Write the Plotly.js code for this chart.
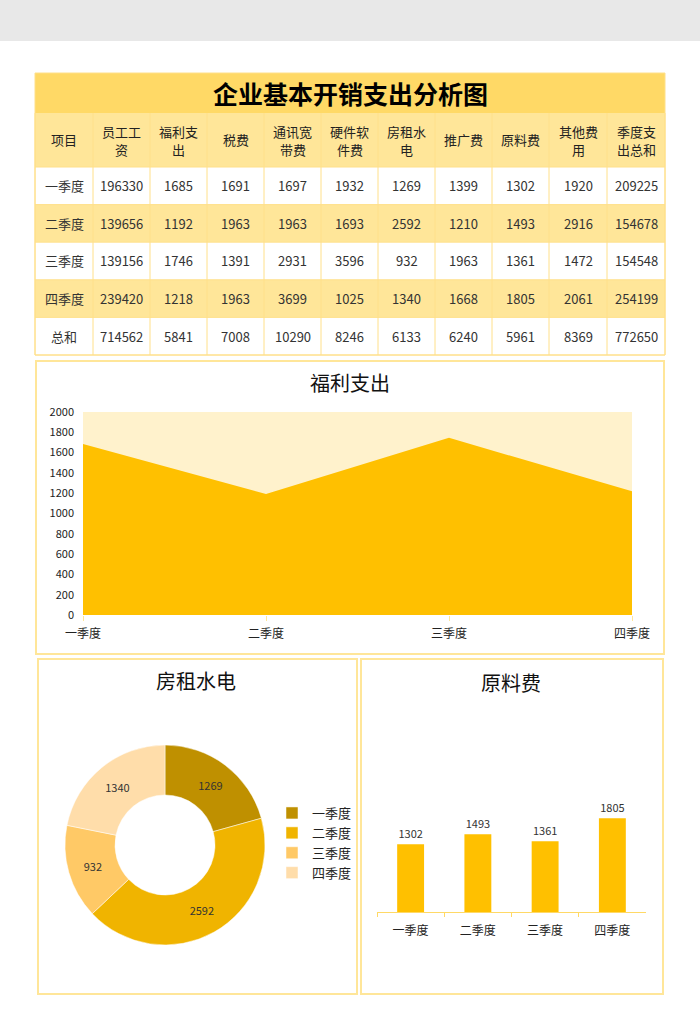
<!DOCTYPE html>
<html>
<head>
<meta charset="utf-8">
<script src="https://cdn.plot.ly/plotly-3.0.1.min.js"></script>
<style>html,body{margin:0;padding:0;background:#fff;}#chart{width:700px;height:1030px;}</style>
</head>
<body>
<div id="chart"></div>
<script>
// ---------- data ----------
const quarters = ['一季度','二季度','三季度','四季度'];
const rowLabels = ['一季度','二季度','三季度','四季度','总和'];
const headerLabels = ['项目','员工工<br>资','福利支<br>出','税费','通讯宽<br>带费','硬件软<br>件费','房租水<br>电','推广费','原料费','其他费<br>用','季度支<br>出总和'];
const staffWage = [196330,139656,139156,239420,714562];
const welfare   = [1685,1192,1746,1218,5841];
const tax       = [1691,1963,1391,1963,7008];
const telecom   = [1697,1963,2931,3699,10290];
const hardware  = [1932,1693,3596,1025,8246];
const rent      = [1269,2592,932,1340,6133];
const promotion = [1399,1210,1963,1668,6240];
const material  = [1302,1493,1361,1805,5961];
const other     = [1920,2916,1472,2061,8369];
const quarterTotal = [209225,154678,154548,254199,772650];
const welfareCap = [2000,2000,2000,2000];

const mainTitle = '企业基本开销支出分析图';
const areaTitle = '福利支出';
const pieTitle = '房租水电';
const barTitle = '原料费';

// ---------- helpers ----------
const W = 700, H = 1030;
const px = x => x / W;
const py = y => 1 - y / H;
const FONT = '"Noto Sans CJK SC", "Noto Sans", sans-serif';

// ---------- table (grid drawn with shapes, text with annotations) ----------
const tableColumns = [rowLabels, staffWage, welfare, tax, telecom, hardware, rent, promotion, material, other, quarterTotal];
const colWidths = [58,57,57,57,57,57,57,57,57,58,58];
const tableLeft = 35, titleTop = 73, headerTop = 113, headerH = 54, rowH = 37.6, headerLineGap = 18;
const rowFill = ['#FFFFFF','#FFE699','#FFFFFF','#FFE699','#FFFFFF'];
const gridColor = '#FFE08A';

const colEdges = [tableLeft];
colWidths.forEach(w => colEdges.push(colEdges[colEdges.length - 1] + w));
const tableRight = colEdges[colEdges.length - 1];
const dataTop = headerTop + headerH;
const tableBottom = dataTop + rowH * rowLabels.length;

const shapes = [];
const annotations = [];

// gray top band
shapes.push({type: 'rect', xref: 'paper', yref: 'paper', x0: 0, x1: 1, y0: py(41), y1: 1,
  fillcolor: '#E8E8E8', line: {width: 0}, layer: 'below'});
// title row
shapes.push({type: 'rect', xref: 'paper', yref: 'paper', x0: px(tableLeft), x1: px(tableRight),
  y0: py(headerTop), y1: py(titleTop), fillcolor: '#FFD966', line: {width: 0}, layer: 'below'});
// header row
shapes.push({type: 'rect', xref: 'paper', yref: 'paper', x0: px(tableLeft), x1: px(tableRight),
  y0: py(dataTop), y1: py(headerTop), fillcolor: '#FFE699', line: {width: 0}, layer: 'below'});
// data rows
rowLabels.forEach((_, r) => {
  shapes.push({type: 'rect', xref: 'paper', yref: 'paper', x0: px(tableLeft), x1: px(tableRight),
    y0: py(dataTop + rowH * (r + 1)), y1: py(dataTop + rowH * r),
    fillcolor: rowFill[r], line: {width: 0}, layer: 'below'});
});
// vertical grid lines
colEdges.forEach(x => {
  shapes.push({type: 'line', xref: 'paper', yref: 'paper', x0: px(x), x1: px(x),
    y0: py(tableBottom), y1: py(headerTop), line: {color: gridColor, width: 1}, layer: 'below'});
});
// horizontal grid lines
for (let r = 0; r <= rowLabels.length; r++) {
  const y = dataTop + rowH * r;
  shapes.push({type: 'line', xref: 'paper', yref: 'paper', x0: px(tableLeft), x1: px(tableRight),
    y0: py(y), y1: py(y), line: {color: gridColor, width: 1}, layer: 'below'});
}
// outer border
shapes.push({type: 'rect', xref: 'paper', yref: 'paper', x0: px(tableLeft), x1: px(tableRight),
  y0: py(tableBottom), y1: py(titleTop), line: {color: gridColor, width: 1}, layer: 'below'});

// table title
annotations.push({text: '<b>' + mainTitle + '</b>', xref: 'paper', yref: 'paper',
  x: px((tableLeft + tableRight) / 2), y: py((titleTop + headerTop) / 2),
  xanchor: 'center', yanchor: 'middle', showarrow: false,
  font: {family: FONT, size: 25, color: '#000'}});
// header + cells
headerLabels.forEach((h, c) => {
  const cx = (colEdges[c] + colEdges[c + 1]) / 2;
  const lines = h.split('<br>');
  const midY = headerTop + headerH / 2;
  lines.forEach((ln, i) => {
    const ly = midY + (i - (lines.length - 1) / 2) * headerLineGap;
    annotations.push({text: ln, xref: 'paper', yref: 'paper', x: px(cx), y: py(ly),
      xanchor: 'center', yanchor: 'middle', showarrow: false,
      font: {family: FONT, size: 13, color: '#222'}});
  });
  tableColumns[c].forEach((v, r) => {
    annotations.push({text: String(v), xref: 'paper', yref: 'paper', x: px(cx),
      y: py(dataTop + rowH * (r + 0.5)), xanchor: 'center', yanchor: 'middle', showarrow: false,
      font: {family: FONT, size: 13, color: '#333'}});
  });
});

// ---------- chart panels ----------
const panelLine = {color: '#FFE699', width: 2};
[[36, 361, 664, 654], [38, 659, 357, 994], [361, 659, 663, 994]].forEach(([x0, y0, x1, y1]) => {
  shapes.push({type: 'rect', xref: 'paper', yref: 'paper', x0: px(x0), x1: px(x1), y0: py(y1), y1: py(y0),
    line: panelLine, layer: 'below'});
});
[[areaTitle, 350, 383], [pieTitle, 196, 680], [barTitle, 511, 682]].forEach(([t, x, y]) => {
  annotations.push({text: t, xref: 'paper', yref: 'paper', x: px(x), y: py(y),
    xanchor: 'center', yanchor: 'middle', showarrow: false,
    font: {family: FONT, size: 20, color: '#111'}});
});

const capTrace = {
  type: 'scatter', mode: 'lines', x: quarters, y: welfareCap,
  fill: 'tozeroy', fillcolor: '#FFF2CC', line: {width: 0, color: '#FFF2CC'},
  xaxis: 'x', yaxis: 'y', showlegend: false, hoverinfo: 'skip'
};
const areaTrace = {
  type: 'scatter', mode: 'lines', x: quarters, y: welfare.slice(0, 4),
  fill: 'tozeroy', fillcolor: '#FFC000', line: {width: 0, color: '#FFC000'},
  xaxis: 'x', yaxis: 'y', showlegend: false, name: areaTitle
};

const pieTrace = {
  type: 'pie', labels: quarters, values: rent.slice(0, 4),
  hole: 0.5, sort: false, direction: 'clockwise', rotation: 0,
  domain: {x: [px(65), px(265)], y: [py(945), py(745)]},
  marker: {colors: ['#BF9000','#F0B400','#FFC966','#FFDDAA'], line: {color: '#FFFFFF', width: 0.5}},
  textinfo: 'value', textposition: 'inside', insidetextorientation: 'horizontal',
  textfont: {family: FONT, size: 11, color: '#333'},
  showlegend: true, name: pieTitle
};

const barTrace = {
  type: 'bar', x: quarters, y: material.slice(0, 4),
  marker: {color: '#FFC000'},
  text: material.slice(0, 4).map(String), textposition: 'outside', cliponaxis: false,
  textfont: {family: FONT, size: 11, color: '#333'},
  xaxis: 'x2', yaxis: 'y2', showlegend: false, name: barTitle
};

const layout = {
  width: W, height: H,
  margin: {l: 0, r: 0, t: 0, b: 0},
  paper_bgcolor: '#FFFFFF', plot_bgcolor: 'rgba(0,0,0,0)',
  font: {family: FONT, color: '#222'},
  showlegend: true,
  legend: {
    x: px(272), y: py(798), xanchor: 'left', yanchor: 'top',
    font: {family: FONT, size: 13, color: '#222'},
    bgcolor: 'rgba(0,0,0,0)', tracegroupgap: 0
  },
  bargap: 0.6,
  xaxis: {
    domain: [px(83), px(632)], type: 'category', range: [0, 3],
    showgrid: false, zeroline: false, showline: false,
    ticks: 'outside', ticklen: 5, tickcolor: '#FFE699', ticklabelstandoff: 3,
    tickfont: {family: FONT, size: 12, color: '#222'}, fixedrange: true
  },
  yaxis: {
    domain: [py(615), py(412)], range: [0, 2000], dtick: 200,
    showgrid: false, zeroline: false, showline: false, ticks: '',
    ticklabelstandoff: 8,
    tickfont: {family: FONT, size: 11, color: '#222'}, fixedrange: true
  },
  xaxis2: {
    domain: [px(377), px(646)], type: 'category', anchor: 'y2',
    showgrid: false, zeroline: false, showline: true, linecolor: '#FFD966', linewidth: 1,
    ticks: 'outside', tickson: 'boundaries', ticklen: 4, tickcolor: '#FFD966',
    ticklabelstandoff: 8,
    tickfont: {family: FONT, size: 12, color: '#222'}, fixedrange: true
  },
  yaxis2: {
    domain: [py(912), py(808)], range: [0, 2000], anchor: 'x2',
    visible: false, showgrid: false, zeroline: false, fixedrange: true
  },
  shapes: shapes,
  annotations: annotations
};

Plotly.newPlot('chart', [capTrace, areaTrace, pieTrace, barTrace], layout,
  {displayModeBar: false, staticPlot: true});
</script>
</body>
</html>
